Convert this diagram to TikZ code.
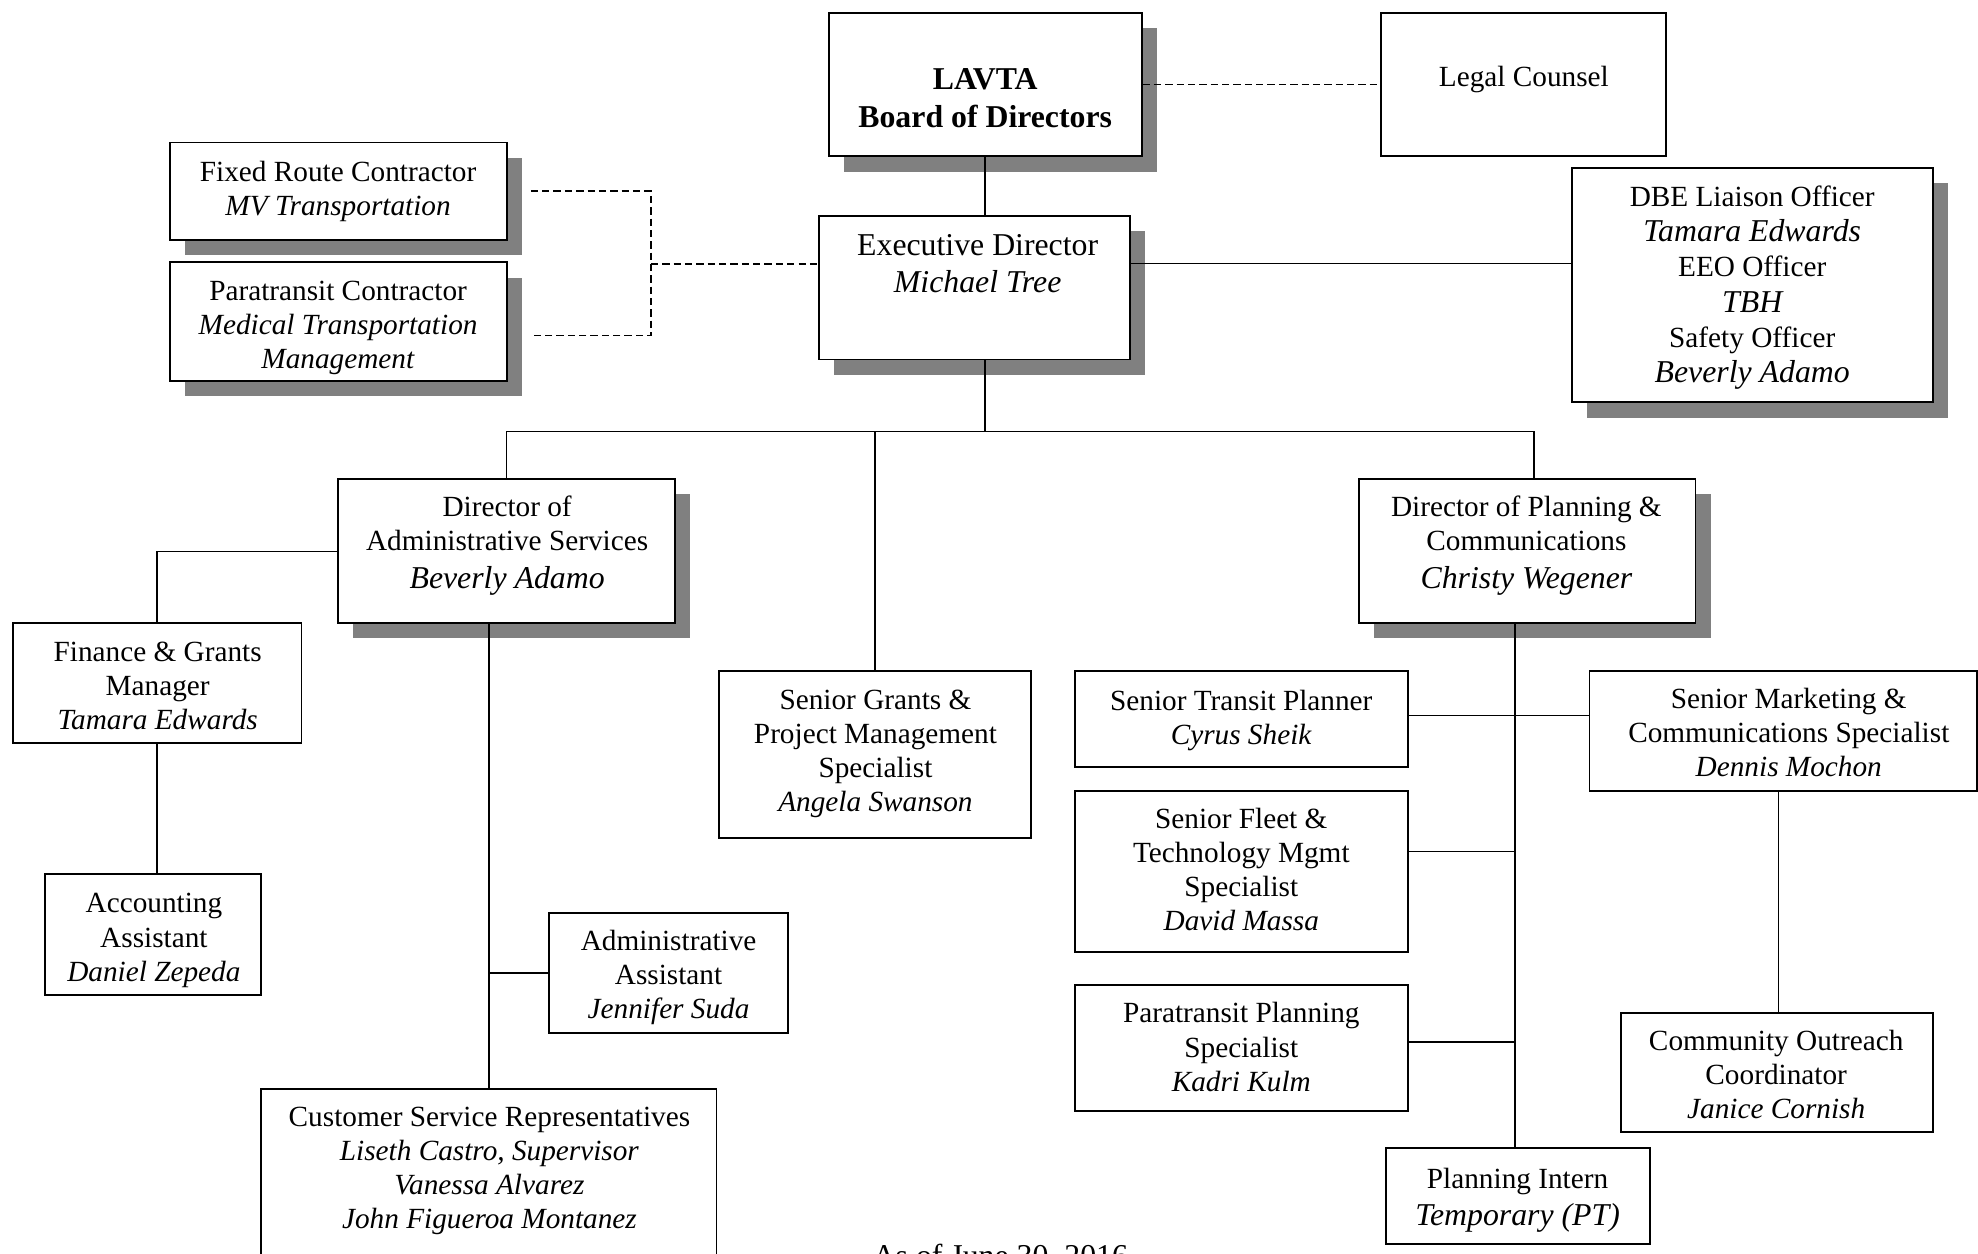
\documentclass[tikz,border=0pt]{standalone}
\usepackage{fontspec}
\setmainfont{Liberation Serif}
\usetikzlibrary{fit,shadows}
\definecolor{shadowgray}{HTML}{808080}
\newcommand\bgf{\fontsize{12.6}{15}\selectfont}
\begin{document}
\begin{tikzpicture}[x=0.5pt,y=-0.5pt,
  box/.style={draw, line width=0.75pt, fill=white, inner sep=0pt, rectangle},
  sbox/.style={box, drop shadow={shadow xshift=6pt, shadow yshift=-6pt, fill=shadowgray, opacity=1}},
  txt/.style={align=center, inner sep=0pt, font=\fontsize{11.6}{13.5}\selectfont},
  link/.style={line width=0.6pt},
  dlink/.style={line width=0.75pt, dash pattern=on 2.9pt off 1.6pt}]
\useasboundingbox (0,0) rectangle (1568,994);
\fill[white] (0,0) rectangle (1568,994);
\clip (0,0) rectangle (1568,994);

% boxes
\node[sbox, fit={(657,10) (905,124)}] (board) {};
\node[box, fit={(1095,10) (1321,124)}] (legal) {};
\node[sbox, fit={(135,113) (402,190)}] (fr) {};
\node[sbox, fit={(135,208) (402,302)}] (pc) {};
\node[sbox, fit={(649,171) (896,285)}] (ed) {};
\node[sbox, fit={(1246,133) (1532,319)}] (dbe) {};
\node[sbox, fit={(268,380) (535,494)}] (da) {};
\node[sbox, fit={(1077,380) (1344,494)}] (dp) {};
\node[box, fit={(10,494) (239,589)}] (fin) {};
\node[box, fit={(36,693) (207,789)}] (acc) {};
\node[box, fit={(435,724) (625,819)}] (aa) {};
\node[box, fit={(207,863) (568,1010)}] (csr) {};
\node[box, fit={(570,532) (817,664)}] (sg) {};
\node[box, fit={(852,532) (1116,608)}] (stp) {};
\node[box, fit={(852,627) (1116,755)}] (sf) {};
\node[box, fit={(852,781) (1116,881)}] (pp) {};
\node[box, fit={(1099,910) (1308,986)}] (pi) {};
\node[box, fit={(1260,532) (1567,627)}] (sm) {};
\node[box, fit={(1285,803) (1532,897)}] (co) {};

% texts
\node[txt, font=\bgf\bfseries] (boardt) at (781,78) {LAVTA\\Board of Directors};
\node[txt] (legalt) at (1208,63) {Legal Counsel};
\node[txt, font=\bgf] (edt) at (775,209) {Executive Director\\\textit{Michael Tree}};
\node[txt] (frt) at (268,152) {Fixed Route Contractor\\\textit{MV Transportation}};
\node[txt] (pct) at (268,260) {Paratransit Contractor\\\textit{Medical Transportation}\\\textit{Management}};
\node[txt, font=\fontsize{11.6}{14}\selectfont] (dbet) at (1389,228) {DBE Liaison Officer\\{\bgf\itshape Tamara Edwards}\\EEO Officer\\{\bgf\itshape TBH}\\Safety Officer\\{\bgf\itshape Beverly Adamo}};
\node[txt] (dat) at (402,432.5) {Director of\\Administrative Services\\[1.5pt]{\bgf\itshape Beverly Adamo}};
\node[txt] (fint) at (125,544) {Finance \& Grants\\Manager\\\textit{Tamara Edwards}};
\node[txt] (acct) at (122,745.5) {Accounting\\Assistant\\\textit{Daniel Zepeda}};
\node[txt] (aat) at (530,775) {Administrative\\Assistant\\\textit{Jennifer Suda}};
\node[txt] (csrt) at (388,928.5) {Customer Service Representatives\\\textit{Liseth Castro, Supervisor}\\\textit{Vanessa Alvarez}\\\textit{John Figueroa Montanez}};
\node[txt] (sgt) at (694,597.5) {Senior Grants \&\\Project Management\\Specialist\\\textit{Angela Swanson}};
\node[txt] (dpt) at (1210,432.5) {Director of Planning \&\\Communications\\[1.5pt]{\bgf\itshape Christy Wegener}};
\node[txt] (stpt) at (984,571) {Senior Transit Planner\\\textit{Cyrus Sheik}};
\node[txt] (sft) at (984,689.5) {Senior Fleet \&\\Technology Mgmt\\Specialist\\\textit{David Massa}};
\node[txt] (ppt) at (984,830) {Paratransit Planning\\Specialist\\\textit{Kadri Kulm}};
\node[txt] (pit) at (1203,951.5) {Planning Intern\\[1.5pt]{\bgf\itshape Temporary (PT)}};
\node[txt] (smt) at (1418,580.5) {Senior Marketing \&\\Communications Specialist\\\textit{Dennis Mochon}};
\node[txt] (cot) at (1408,852) {Community Outreach\\Coordinator\\\textit{Janice Cornish}};
\node[txt, font=\bgf, anchor=base] (date) at (793,1004) {As of June 30, 2016};

% junctions
\coordinate (dj) at (516,209);
\coordinate (frj) at ([xshift=9pt]fr.east);
\coordinate (pcj) at ([xshift=9pt,yshift=-5.5pt]pc.east);
\coordinate (bus) at (781,342);
\coordinate (busR) at (1216,342);
\coordinate (jstp) at (1201,567);
\coordinate (jsf) at (1201,675);
\coordinate (jpp) at (1201,826);
\coordinate (jsm) at (1410,627);

% connectors
\draw[dlink] (board.east) -- (legal.west);
\draw[link] (board.south) -- (board.south |- ed.north);
\draw[dlink] (frj) -| (dj) |- (pcj);
\draw[dlink] (dj) -- (dj -| ed.west);
\draw[link] ([yshift=9.5pt]ed.east) -- ([yshift=9.5pt]ed.east -| dbe.west);
\draw[link] (bus |- ed.south) -- (bus);
\draw[link] (da.north) |- (busR) -- (busR |- dp.north);
\draw[link] (bus -| sg.north) -- (sg.north);
\draw[link] (da.west) -| (fin.north);
\draw[link] (fin.south) -- (fin.south |- acc.north);
\draw[link] (csr.north |- da.south) -- (csr.north);
\draw[link] (aa.west) -- (aa.west -| csr.north);
\draw[link] (jstp |- dp.south) -- (jstp |- pi.north);
\draw[link] (jstp -| stp.east) -- (jstp -| sm.west);
\draw[link] (jsf -| sf.east) -- (jsf);
\draw[link] (jpp -| pp.east) -- (jpp);
\draw[link] (jsm) -- (jsm |- co.north);
\end{tikzpicture}
\end{document}
